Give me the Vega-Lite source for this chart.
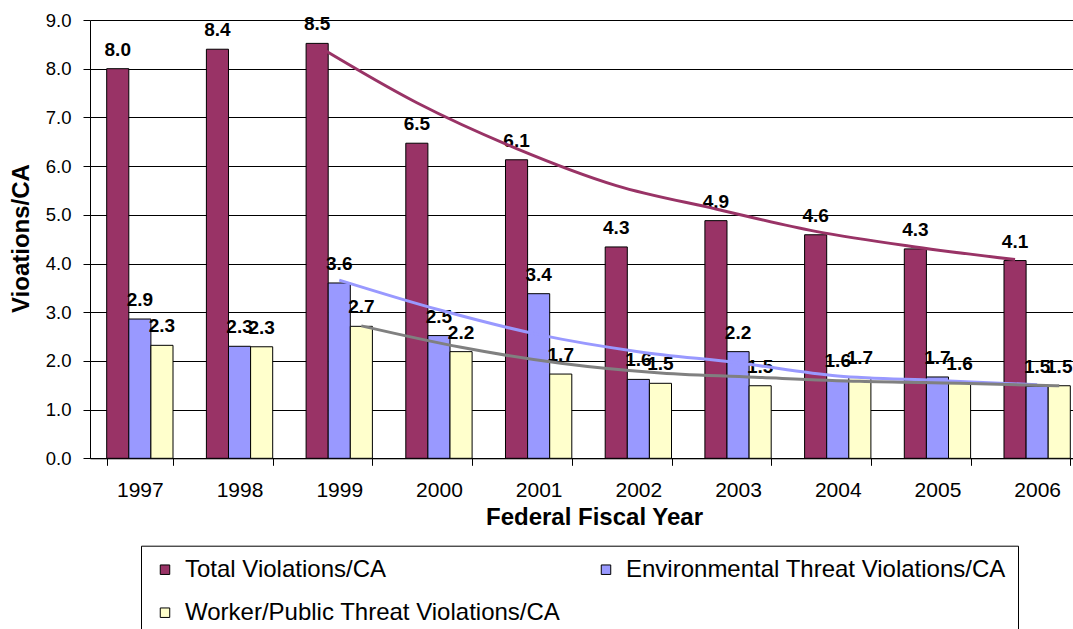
{
  "$schema": "https://vega.github.io/schema/vega-lite/v6.json",
  "width": 983,
  "height": 438.3,
  "autosize": {"type": "none"},
  "padding": {"left": 90, "top": 20, "right": 0, "bottom": 170.7},
  "background": "white",
  "config": {
    "font": "Liberation Sans",
    "view": {"stroke": null}
  },
  "datasets": {
    "bars": [
      {"year": "1997", "series": "Total Violations/CA", "value": 8.0},
      {"year": "1997", "series": "Environmental Threat Violations/CA", "value": 2.86},
      {"year": "1997", "series": "Worker/Public Threat Violations/CA", "value": 2.32},
      {"year": "1998", "series": "Total Violations/CA", "value": 8.4},
      {"year": "1998", "series": "Environmental Threat Violations/CA", "value": 2.3},
      {"year": "1998", "series": "Worker/Public Threat Violations/CA", "value": 2.29},
      {"year": "1999", "series": "Total Violations/CA", "value": 8.52},
      {"year": "1999", "series": "Environmental Threat Violations/CA", "value": 3.6},
      {"year": "1999", "series": "Worker/Public Threat Violations/CA", "value": 2.71},
      {"year": "2000", "series": "Total Violations/CA", "value": 6.47},
      {"year": "2000", "series": "Environmental Threat Violations/CA", "value": 2.52},
      {"year": "2000", "series": "Worker/Public Threat Violations/CA", "value": 2.19},
      {"year": "2001", "series": "Total Violations/CA", "value": 6.13},
      {"year": "2001", "series": "Environmental Threat Violations/CA", "value": 3.38},
      {"year": "2001", "series": "Worker/Public Threat Violations/CA", "value": 1.73},
      {"year": "2002", "series": "Total Violations/CA", "value": 4.34},
      {"year": "2002", "series": "Environmental Threat Violations/CA", "value": 1.62},
      {"year": "2002", "series": "Worker/Public Threat Violations/CA", "value": 1.54},
      {"year": "2003", "series": "Total Violations/CA", "value": 4.88},
      {"year": "2003", "series": "Environmental Threat Violations/CA", "value": 2.19},
      {"year": "2003", "series": "Worker/Public Threat Violations/CA", "value": 1.49},
      {"year": "2004", "series": "Total Violations/CA", "value": 4.59},
      {"year": "2004", "series": "Environmental Threat Violations/CA", "value": 1.6},
      {"year": "2004", "series": "Worker/Public Threat Violations/CA", "value": 1.66},
      {"year": "2005", "series": "Total Violations/CA", "value": 4.3},
      {"year": "2005", "series": "Environmental Threat Violations/CA", "value": 1.67},
      {"year": "2005", "series": "Worker/Public Threat Violations/CA", "value": 1.55},
      {"year": "2006", "series": "Total Violations/CA", "value": 4.06},
      {"year": "2006", "series": "Environmental Threat Violations/CA", "value": 1.48},
      {"year": "2006", "series": "Worker/Public Threat Violations/CA", "value": 1.49}
    ],
    "trend": [
      {"year": "1999", "series": "Total Violations/CA", "value": 8.47},
      {"year": "2000", "series": "Total Violations/CA", "value": 7.3},
      {"year": "2001", "series": "Total Violations/CA", "value": 6.36},
      {"year": "2002", "series": "Total Violations/CA", "value": 5.6},
      {"year": "2003", "series": "Total Violations/CA", "value": 5.12},
      {"year": "2004", "series": "Total Violations/CA", "value": 4.66},
      {"year": "2005", "series": "Total Violations/CA", "value": 4.34},
      {"year": "2006", "series": "Total Violations/CA", "value": 4.08},
      {"year": "1999", "series": "Environmental Threat Violations/CA", "value": 3.66},
      {"year": "2000", "series": "Environmental Threat Violations/CA", "value": 3.05},
      {"year": "2001", "series": "Environmental Threat Violations/CA", "value": 2.54},
      {"year": "2002", "series": "Environmental Threat Violations/CA", "value": 2.19},
      {"year": "2003", "series": "Environmental Threat Violations/CA", "value": 1.96},
      {"year": "2004", "series": "Environmental Threat Violations/CA", "value": 1.69},
      {"year": "2005", "series": "Environmental Threat Violations/CA", "value": 1.6},
      {"year": "2006", "series": "Environmental Threat Violations/CA", "value": 1.51},
      {"year": "1999", "series": "Worker/Public Threat Violations/CA", "value": 2.72},
      {"year": "2000", "series": "Worker/Public Threat Violations/CA", "value": 2.28},
      {"year": "2001", "series": "Worker/Public Threat Violations/CA", "value": 1.95},
      {"year": "2002", "series": "Worker/Public Threat Violations/CA", "value": 1.75},
      {"year": "2003", "series": "Worker/Public Threat Violations/CA", "value": 1.66},
      {"year": "2004", "series": "Worker/Public Threat Violations/CA", "value": 1.58},
      {"year": "2005", "series": "Worker/Public Threat Violations/CA", "value": 1.54},
      {"year": "2006", "series": "Worker/Public Threat Violations/CA", "value": 1.49}
    ]
  },
  "encoding": {
    "x": {
      "field": "year",
      "type": "ordinal",
      "scale": {"range": [0, 997], "paddingInner": 0.335, "paddingOuter": 0.1675},
      "axis": {
        "title": "Federal Fiscal Year",
        "tickBand": "extent",
        "labelAngle": 0,
        "grid": false,
        "domainColor": "black",
        "tickColor": "black",
        "tickSize": 7,
        "labelFontSize": 21,
        "labelColor": "black",
        "labelPadding": 14,
        "titleFontSize": 24,
        "titleFontWeight": "bold",
        "titleColor": "black",
        "titleX": 504,
        "titleY": 58.7,
        "titleBaseline": "middle",
        "titleAlign": "center"
      }
    },
    "xOffset": {
      "field": "series",
      "type": "nominal",
      "scale": {
        "domain": ["Total Violations/CA", "Environmental Threat Violations/CA", "Worker/Public Threat Violations/CA"],
        "paddingInner": 0,
        "paddingOuter": 0
      }
    },
    "y": {
      "field": "value",
      "type": "quantitative",
      "scale": {"domain": [0, 9], "nice": false},
      "axis": {
        "title": "Vioations/CA",
        "values": [0, 1, 2, 3, 4, 5, 6, 7, 8, 9],
        "format": ".1f",
        "grid": true,
        "gridColor": "black",
        "gridOpacity": 1,
        "domainColor": "black",
        "tickColor": "black",
        "tickSize": 7,
        "labelFontSize": 18.5,
        "labelColor": "black",
        "labelPadding": 12,
        "titleFontSize": 24,
        "titleFontWeight": "bold",
        "titleColor": "black",
        "titleAngle": -90,
        "titleX": -69,
        "titleY": 218,
        "titleBaseline": "middle",
        "titleAlign": "center"
      }
    }
  },
  "layer": [
    {
      "data": {"name": "bars"},
      "mark": {"type": "bar", "stroke": "black", "strokeWidth": 1},
      "encoding": {
        "color": {
          "field": "series",
          "type": "nominal",
          "scale": {
            "domain": ["Total Violations/CA", "Worker/Public Threat Violations/CA", "Environmental Threat Violations/CA"],
            "range": ["#993366", "#FFFFCC", "#9999FF"]
          },
          "legend": {
            "orient": "none",
            "legendX": 51,
            "legendY": 525.7,
            "columns": 2,
            "title": null,
            "symbolType": "square",
            "symbolSize": 90,
            "symbolStrokeColor": "black",
            "symbolStrokeWidth": 1,
            "symbolOpacity": 1,
            "symbolOffset": 0,
            "labelFontSize": 24,
            "labelColor": "black",
            "labelOffset": 8,
            "labelLimit": 600,
            "columnPadding": 33,
            "rowPadding": 19,
            "padding": 12,
            "strokeColor": "black",
            "fillColor": "white"
          }
        }
      }
    },
    {
      "data": {"name": "bars"},
      "mark": {"type": "text", "fontWeight": "bold", "fontSize": 19, "baseline": "alphabetic", "dy": -13, "color": "black"},
      "encoding": {
        "text": {"field": "value", "type": "quantitative", "format": ".1f"}
      }
    },
    {
      "data": {"name": "trend"},
      "mark": {"type": "line", "strokeWidth": 3, "interpolate": "monotone"},
      "encoding": {
        "stroke": {
          "field": "series",
          "type": "nominal",
          "scale": {
            "domain": ["Total Violations/CA", "Environmental Threat Violations/CA", "Worker/Public Threat Violations/CA"],
            "range": ["#993366", "#9999FF", "#808080"]
          },
          "legend": null
        }
      }
    }
  ]
}
